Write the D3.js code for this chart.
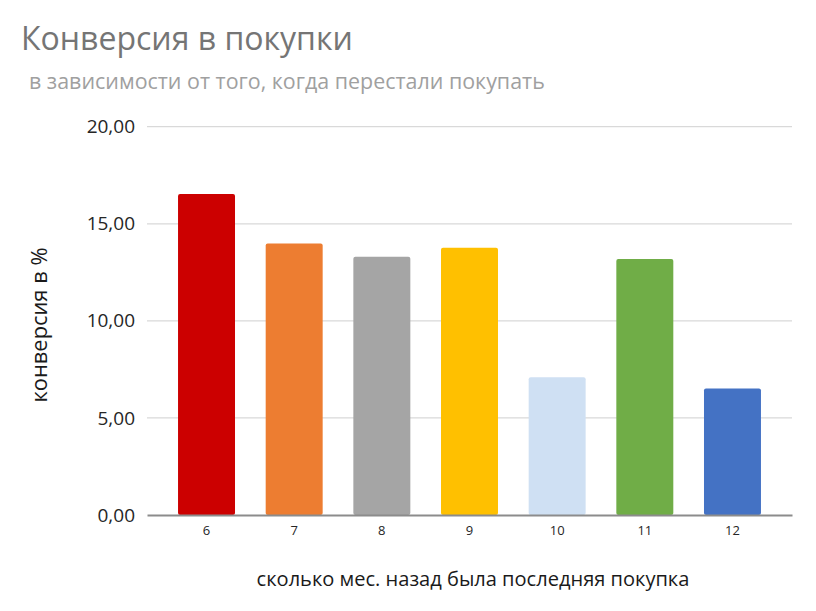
<!DOCTYPE html>
<html>
<head>
<meta charset="utf-8">
<script src="https://cdn.jsdelivr.net/npm/d3@7"></script>
<style>
  body { margin: 0; background: #fff; }
  text { font-family: "Open Sans", "DejaVu Sans", sans-serif; }
</style>
</head>
<body>
<div class="chart"></div>
<script>
// data
var months = ["6", "7", "8", "9", "10", "11", "12"];
var conversion = [16.53, 13.99, 13.30, 13.76, 7.09, 13.18, 6.52];
var barColors = ["#cc0000", "#ed7d31", "#a5a5a5", "#ffc000", "#cfe0f3", "#70ad47", "#4472c4"];
var yTicks = [0, 5, 10, 15, 20];

var W = 816, H = 611;
var plotLeft = 147, plotRight = 792, plotTop = 126.7, plotBottom = 515;

var svg = d3.select(".chart").append("svg")
    .attr("width", W)
    .attr("height", H);

function fitWidth(sel, target) {
    var node = sel.node();
    var fs = parseFloat(sel.attr("font-size"));
    var w = node.getComputedTextLength();
    sel.attr("font-size", (fs * target / w).toFixed(2));
}

var x = d3.scaleBand()
    .domain(months)
    .range([plotLeft, plotRight])
    .paddingInner(0.35)
    .paddingOuter(0.354);

var y = d3.scaleLinear()
    .domain([0, 20])
    .range([plotBottom, plotTop]);

var fmt = function(d) { return d3.format(".2f")(d).replace(".", ","); };

// gridlines
svg.append("g").selectAll("line")
    .data(yTicks.filter(function(d) { return d > 0; }))
    .enter().append("line")
    .attr("x1", plotLeft).attr("x2", plotRight)
    .attr("y1", function(d) { return y(d); })
    .attr("y2", function(d) { return y(d); })
    .attr("stroke", "#d9d9d9")
    .attr("stroke-width", 1.2);

// y axis labels
var yAxis = svg.append("g")
    .attr("transform", "translate(" + (plotLeft - 12) + ",0)")
    .call(d3.axisLeft(y).tickValues(yTicks).tickFormat(fmt).tickSize(0).tickPadding(0));
yAxis.select(".domain").remove();
yAxis.selectAll("text")
    .attr("font-size", 19)
    .attr("fill", "#262626")
    .attr("font-family", "\"Open Sans\", sans-serif");

// bars
svg.append("g").selectAll("rect")
    .data(conversion)
    .enter().append("rect")
    .attr("x", function(d, i) { return x(months[i]); })
    .attr("y", function(d) { return y(d); })
    .attr("width", x.bandwidth())
    .attr("height", function(d) { return plotBottom - y(d); })
    .attr("rx", 2)
    .attr("fill", function(d, i) { return barColors[i]; });

// x axis
var xAxis = svg.append("g")
    .attr("transform", "translate(0," + plotBottom + ")")
    .call(d3.axisBottom(x).tickSize(0).tickPadding(11));
xAxis.select(".domain")
    .attr("stroke", "#8c8c8c")
    .attr("stroke-width", 1.8);
xAxis.selectAll("text")
    .attr("font-size", 13)
    .attr("fill", "#262626")
    .attr("font-family", "\"Open Sans\", sans-serif");

// titles
var title = svg.append("text")
    .attr("x", 21).attr("y", 50)
    .attr("font-size", 32)
    .attr("fill", "#757575")
    .text("Конверсия в покупки");
fitWidth(title, 332);

var sub = svg.append("text")
    .attr("x", 29).attr("y", 89)
    .attr("font-size", 19)
    .attr("fill", "#a0a0a0")
    .text("в зависимости от того, когда перестали покупать");
fitWidth(sub, 516);

var xt = svg.append("text")
    .attr("x", 473).attr("y", 586)
    .attr("text-anchor", "middle")
    .attr("font-size", 19)
    .attr("fill", "#1a1a1a")
    .text("сколько мес. назад была последняя покупка");
fitWidth(xt, 433);

var yt = svg.append("text")
    .attr("transform", "translate(47,325) rotate(-90)")
    .attr("text-anchor", "middle")
    .attr("font-size", 19)
    .attr("fill", "#1a1a1a")
    .text("конверсия в %");
fitWidth(yt, 155);
</script>
</body>
</html>
